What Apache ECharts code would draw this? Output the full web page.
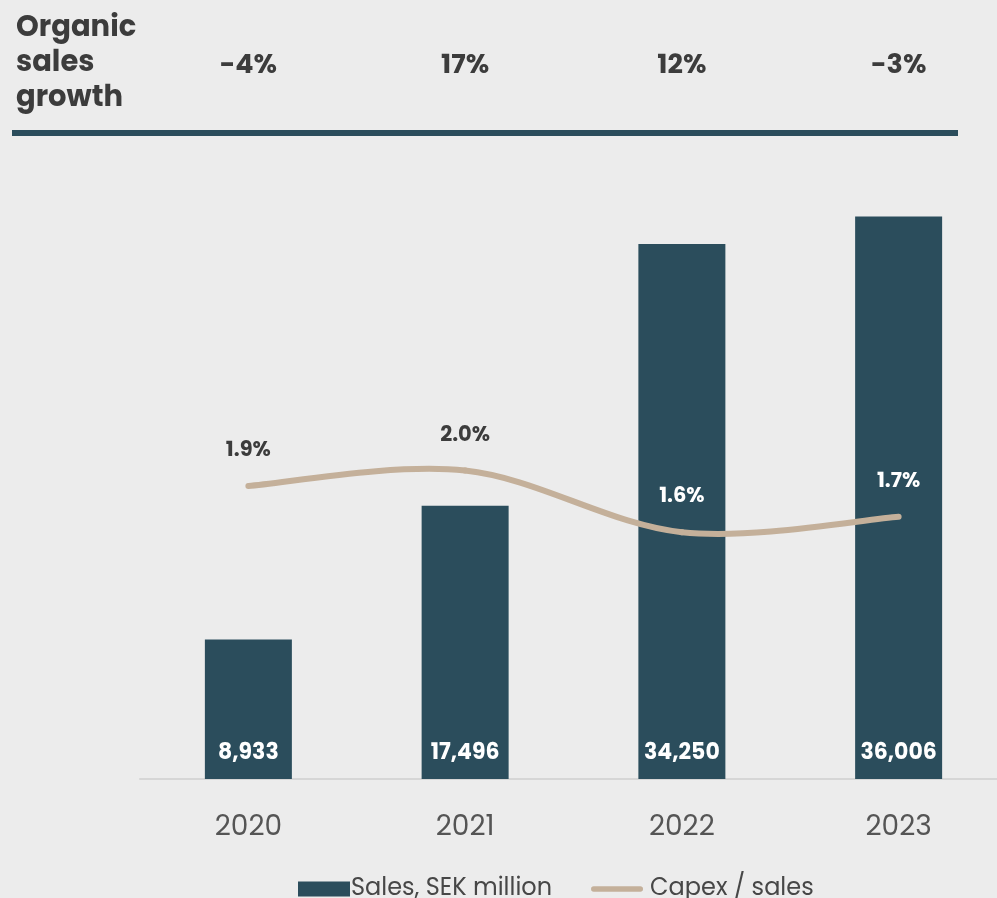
<!DOCTYPE html>
<html>
<head>
<meta charset="utf-8">
<script src="https://cdn.jsdelivr.net/npm/echarts@6/dist/echarts.min.js"></script>
<style>
  html, body { margin: 0; padding: 0; background: #ececec; }
  #chart { width: 997px; height: 898px; }
</style>
</head>
<body>
<div id="chart"></div>
<script>
// Annual figures
const years = ['2020', '2021', '2022', '2023'];
const salesSEKm = [8933, 17496, 34250, 36006];
const capexPct = [1.9, 2.0, 1.6, 1.7];
const organicGrowth = ['-4%', '17%', '12%', '-3%'];

const FONT = 'Poppins, Inter, "Noto Sans", sans-serif';
const BAR = '#2b4d5c';
const LINE = '#c4b09a';
const DARK = '#3c3c3c';

// Capex labels that sit over a dark bar are drawn in white
const capexLabelColor = [DARK, DARK, '#ffffff', '#ffffff'];

// Capex curve: each item draws the spline segment to the next year
// (Catmull-Rom control points) plus its own percentage label.
function renderCapex(params, api) {
  const i = params.dataIndex;
  const n = capexPct.length;
  const pts = capexPct.map((v, k) => api.coord([k, v]));
  const children = [];
  if (i < n - 1) {
    const p0 = pts[Math.max(i - 1, 0)];
    const p1 = pts[i];
    const p2 = pts[i + 1];
    const p3 = pts[Math.min(i + 2, n - 1)];
    const t = 1 / 6;
    children.push({
      type: 'bezierCurve',
      shape: {
        x1: p1[0], y1: p1[1],
        cpx1: p1[0] + (p2[0] - p0[0]) * t, cpy1: p1[1] + (p2[1] - p0[1]) * t,
        cpx2: p2[0] - (p3[0] - p1[0]) * t, cpy2: p2[1] - (p3[1] - p1[1]) * t,
        x2: p2[0], y2: p2[1]
      },
      style: { stroke: LINE, lineWidth: 6, fill: null, lineCap: 'round' }
    });
  }
  const p = pts[i];
  children.push({
    type: 'text',
    x: p[0], y: p[1] - 35,
    style: {
      text: capexPct[i].toFixed(1) + '%',
      font: 'bold 21px ' + FONT,
      fill: capexLabelColor[i],
      align: 'center', verticalAlign: 'middle'
    },
    z2: 10
  });
  return { type: 'group', children };
}

const chart = echarts.init(document.getElementById('chart'));
chart.setOption({
  backgroundColor: '#ececec',
  animation: false,
  textStyle: { fontFamily: FONT },
  graphic: [
    {
      type: 'text', left: 16, top: 11,
      style: {
        text: 'Organic\nsales\ngrowth',
        font: 'bold 29px ' + FONT,
        lineHeight: 35,
        fill: DARK
      }
    },
    {
      type: 'rect', shape: { x: 12, y: 130, width: 946, height: 6 },
      style: { fill: BAR }
    }
  ],
  grid: { left: 140, width: 867, top: 162, bottom: 119, outerBoundsMode: 'none' },
  legend: {
    left: 293, top: 872,
    itemGap: 39,
    itemWidth: 52, itemHeight: 15,
    textStyle: { fontSize: 24, color: '#474747', fontFamily: FONT, padding: [0, 0, 0, -4] },
    data: [
      { name: 'Sales, SEK million', icon: 'rect' },
      {
        name: 'Capex / sales',
        icon: 'path://M3,0 L53,0 A3,3 0 0 1 53,6 L3,6 A3,3 0 0 1 3,0 Z',
        itemStyle: { color: LINE },
        textStyle: { padding: [0, 0, 0, 2] }
      }
    ]
  },
  xAxis: [
    {
      type: 'category', data: years, position: 'bottom',
      axisLine: { lineStyle: { color: '#d6d6d6', width: 2 } },
      axisTick: { show: false },
      axisLabel: { fontSize: 28, color: '#555555', margin: 35, fontFamily: FONT }
    },
    {
      type: 'category', data: organicGrowth, position: 'top',
      axisLine: { show: false },
      axisTick: { show: false },
      axisLabel: { fontSize: 27, fontWeight: 'bold', color: DARK, margin: 82, fontFamily: FONT }
    }
  ],
  yAxis: [
    { type: 'value', min: 0, max: 39500, show: false },
    { type: 'value', min: 0, max: 4.0, show: false }
  ],
  series: [
    {
      name: 'Sales, SEK million',
      type: 'bar',
      data: salesSEKm,
      barWidth: 87,
      itemStyle: { color: BAR },
      label: {
        show: true, position: 'insideBottom', distance: 15,
        color: '#ffffff', fontSize: 22, fontWeight: 'bold', fontFamily: FONT,
        formatter: p => p.value.toLocaleString('en-US')
      }
    },
    {
      name: 'Capex / sales',
      type: 'custom',
      yAxisIndex: 1,
      data: capexPct.map((v, k) => [k, v]),
      itemStyle: { color: LINE },
      renderItem: renderCapex,
      z: 5
    }
  ]
});
</script>
</body>
</html>
